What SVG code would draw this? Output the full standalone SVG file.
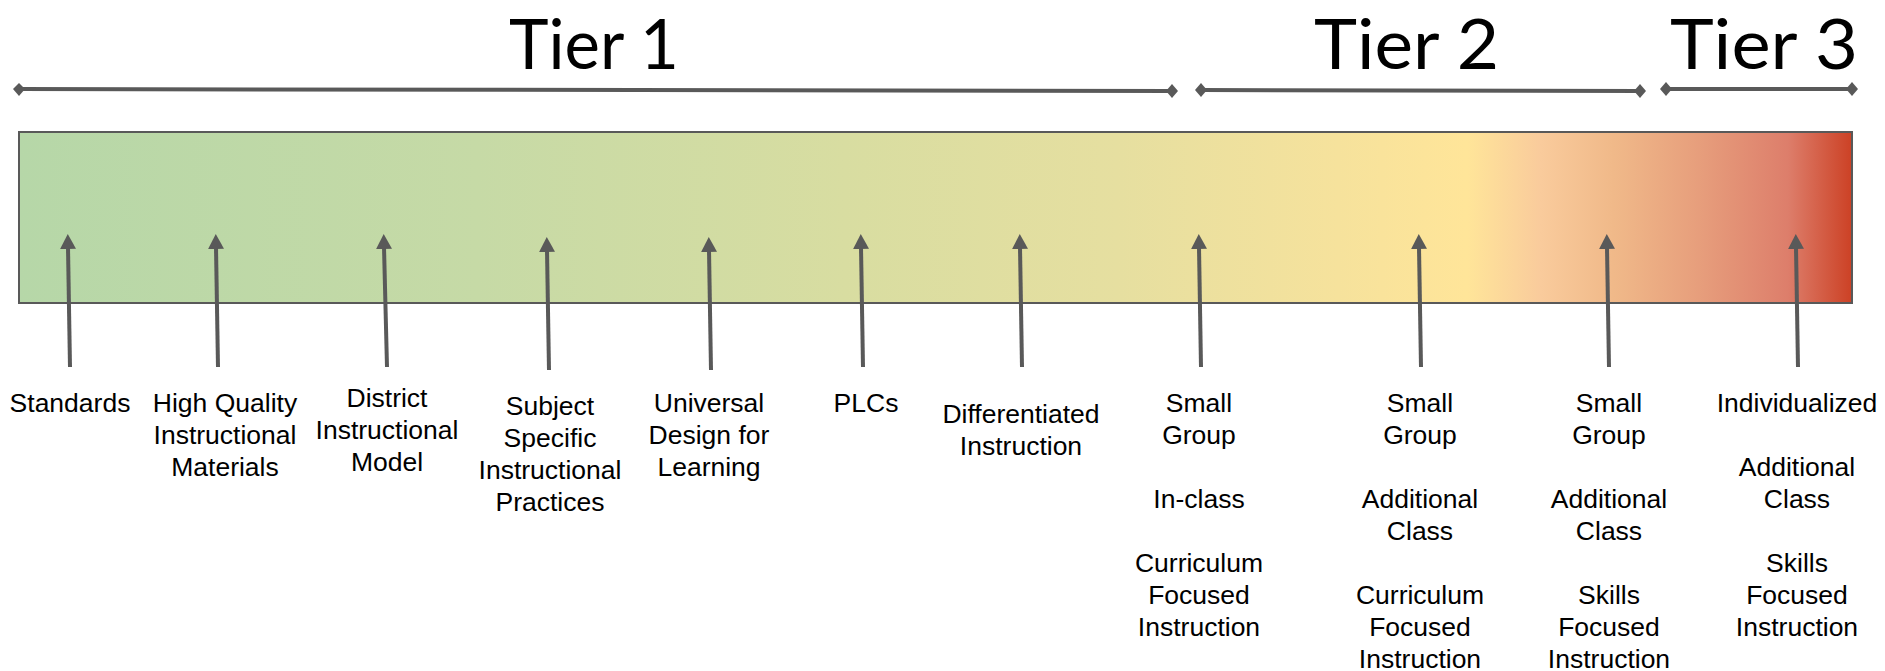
<svg xmlns="http://www.w3.org/2000/svg" width="1885" height="671" viewBox="0 0 1885 671">
  <style>
    .tier { font-family: Lato, "DejaVu Sans", sans-serif; font-size: 69px; fill: #000; }
    .lbl { font-family: "Liberation Sans", Arial, sans-serif; font-size: 26.5px; fill: #000; text-anchor: middle; }
    .span { stroke: #595959; stroke-width: 4; fill: none; }
    .arr { stroke: #595959; stroke-width: 4; fill: none; marker-end: url(#ah); }
    .dia { fill: #595959; }
  </style>
  <defs>
    <linearGradient id="grad" x1="0" y1="0" x2="1" y2="0">
      <stop offset="0" stop-color="#b6d7a8"/>
      <stop offset="0.25" stop-color="#c6daa6"/>
      <stop offset="0.45" stop-color="#d8dda1"/>
      <stop offset="0.6" stop-color="#e6dfa0"/>
      <stop offset="0.72" stop-color="#f6e29c"/>
      <stop offset="0.79" stop-color="#ffe599"/>
      <stop offset="0.83" stop-color="#f9cb9c"/>
      <stop offset="0.87" stop-color="#f0b989"/>
      <stop offset="0.92" stop-color="#e69c7b"/>
      <stop offset="0.965" stop-color="#dd7e6b"/>
      <stop offset="1" stop-color="#cc4125"/>
    </linearGradient>
    <marker id="ah" viewBox="0 0 15 16" refX="2" refY="8" markerWidth="15" markerHeight="16" markerUnits="userSpaceOnUse" orient="auto">
      <path d="M0,0 L15,8 L0,16 Z" fill="#595959"/>
    </marker>
  </defs>

  <g id="titles">
    <text class="tier" x="509" y="68.5" textLength="170" lengthAdjust="spacingAndGlyphs">Tier 1</text>
    <text class="tier" x="1314" y="68.5" textLength="185" lengthAdjust="spacingAndGlyphs">Tier 2</text>
    <text class="tier" x="1670" y="68.5" textLength="188" lengthAdjust="spacingAndGlyphs">Tier 3</text>
  </g>

  <g id="spans">
    <line class="span" x1="19" y1="89" x2="1172" y2="91"/>
    <path class="dia" d="M19,83 L25,89 L19,96 L13,89 Z"/>
    <path class="dia" d="M1172,84 L1178,91 L1172,98 L1166,91 Z"/>
    <line class="span" x1="1201" y1="90" x2="1640" y2="91"/>
    <path class="dia" d="M1201,83 L1207,90 L1201,97 L1195,90 Z"/>
    <path class="dia" d="M1640,84 L1646,91 L1640,98 L1634,91 Z"/>
    <line class="span" x1="1666" y1="89" x2="1852" y2="89"/>
    <path class="dia" d="M1666,82 L1672,89 L1666,96 L1660,89 Z"/>
    <path class="dia" d="M1852,82 L1858,89 L1852,96 L1846,89 Z"/>
  </g>

  <g id="bar">
    <rect x="19" y="132" width="1833" height="171" fill="url(#grad)" stroke="#595959" stroke-width="2"/>
  </g>

  <g id="connectors">
    <line class="arr" x1="70" y1="367" x2="68" y2="247"/>
    <line class="arr" x1="218" y1="367" x2="216" y2="247"/>
    <line class="arr" x1="387" y1="367" x2="384" y2="247"/>
    <line class="arr" x1="549" y1="370" x2="547" y2="250"/>
    <line class="arr" x1="711" y1="370" x2="709" y2="250"/>
    <line class="arr" x1="863" y1="367" x2="861" y2="247"/>
    <line class="arr" x1="1022" y1="367" x2="1020" y2="247"/>
    <line class="arr" x1="1201" y1="367" x2="1199" y2="247"/>
    <line class="arr" x1="1421" y1="367" x2="1419" y2="247"/>
    <line class="arr" x1="1609" y1="367" x2="1607" y2="247"/>
    <line class="arr" x1="1798" y1="367" x2="1796" y2="247"/>
  </g>

  <g id="n-standards"><text class="lbl" x="70" y="412">Standards</text></g>
  <g id="n-hqim">
    <text class="lbl" x="225" y="412">High Quality</text>
    <text class="lbl" x="225" y="444">Instructional</text>
    <text class="lbl" x="225" y="476">Materials</text>
  </g>
  <g id="n-district">
    <text class="lbl" x="387" y="407">District</text>
    <text class="lbl" x="387" y="439">Instructional</text>
    <text class="lbl" x="387" y="471">Model</text>
  </g>
  <g id="n-subject">
    <text class="lbl" x="550" y="415">Subject</text>
    <text class="lbl" x="550" y="447">Specific</text>
    <text class="lbl" x="550" y="479">Instructional</text>
    <text class="lbl" x="550" y="511">Practices</text>
  </g>
  <g id="n-udl">
    <text class="lbl" x="709" y="412">Universal</text>
    <text class="lbl" x="709" y="444">Design for</text>
    <text class="lbl" x="709" y="476">Learning</text>
  </g>
  <g id="n-plcs"><text class="lbl" x="866" y="412">PLCs</text></g>
  <g id="n-diff">
    <text class="lbl" x="1021" y="423">Differentiated</text>
    <text class="lbl" x="1021" y="455">Instruction</text>
  </g>
  <g id="n-t2-inclass">
    <text class="lbl" x="1199" y="412">Small</text>
    <text class="lbl" x="1199" y="444">Group</text>
    <text class="lbl" x="1199" y="508">In-class</text>
    <text class="lbl" x="1199" y="572">Curriculum</text>
    <text class="lbl" x="1199" y="604">Focused</text>
    <text class="lbl" x="1199" y="636">Instruction</text>
  </g>
  <g id="n-t2-additional">
    <text class="lbl" x="1420" y="412">Small</text>
    <text class="lbl" x="1420" y="444">Group</text>
    <text class="lbl" x="1420" y="508">Additional</text>
    <text class="lbl" x="1420" y="540">Class</text>
    <text class="lbl" x="1420" y="604">Curriculum</text>
    <text class="lbl" x="1420" y="636">Focused</text>
    <text class="lbl" x="1420" y="668">Instruction</text>
  </g>
  <g id="n-t2-skills">
    <text class="lbl" x="1609" y="412">Small</text>
    <text class="lbl" x="1609" y="444">Group</text>
    <text class="lbl" x="1609" y="508">Additional</text>
    <text class="lbl" x="1609" y="540">Class</text>
    <text class="lbl" x="1609" y="604">Skills</text>
    <text class="lbl" x="1609" y="636">Focused</text>
    <text class="lbl" x="1609" y="668">Instruction</text>
  </g>
  <g id="n-t3">
    <text class="lbl" x="1797" y="412">Individualized</text>
    <text class="lbl" x="1797" y="476">Additional</text>
    <text class="lbl" x="1797" y="508">Class</text>
    <text class="lbl" x="1797" y="572">Skills</text>
    <text class="lbl" x="1797" y="604">Focused</text>
    <text class="lbl" x="1797" y="636">Instruction</text>
  </g>
</svg>
